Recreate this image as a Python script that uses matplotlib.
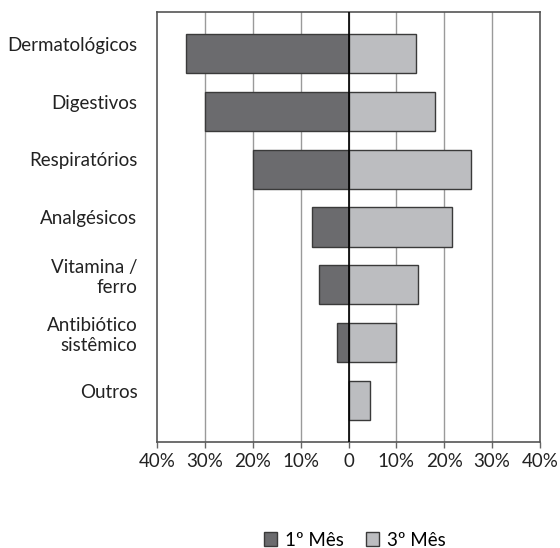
import numpy as np
import matplotlib.pyplot as plt
from matplotlib.patches import Patch

# ===== DADOS =====
categorias = ["Dermatológicos", "Digestivos", "Respiratórios", "Analgésicos",
              "Vitamina /\nferro", "Antibiótico\nsistêmico", "Outros"]
mes1 = [34, 30, 20, 7.6, 6.1, 2.3, 0]      # 1º Mês (lado esquerdo)
mes3 = [14, 18, 25.6, 21.6, 14.6, 10, 4.4]  # 3º Mês (lado direito)
xticks = [-40, -30, -20, -10, 0, 10, 20, 30, 40]
xlabels = ["40%", "30%", "20%", "10%", "0", "10%", "20%", "30%", "40%"]

cor1 = "#6b6b6e"
cor3 = "#bcbdc0"
borda = "#3a3a3a"

plt.rcParams['font.family'] = ['Lato', 'DejaVu Sans']

fig = plt.figure(figsize=(5.6, 5.48), dpi=100)
ax = fig.add_axes([157 / 560, 1 - 442 / 548, (540 - 157) / 560, (442 - 12) / 548])

y = np.arange(len(categorias))
ax.barh(y, [-v for v in mes1], height=0.68, color=cor1, edgecolor=borda, linewidth=1, zorder=3)
ax.barh(y, mes3, height=0.68, color=cor3, edgecolor=borda, linewidth=1, zorder=3)

ax.set_xlim(-40, 40)
ax.set_ylim(len(categorias) - 1 + 0.72, -0.72)

# grade vertical
for t in xticks:
    if t in (-40, 40):
        continue
    ax.axvline(t, color="#9a9a9a", linewidth=1, zorder=1)
ax.axvline(0, color="black", linewidth=1.2, zorder=4)

ax.set_xticks(xticks)
ax.set_xticklabels(xlabels, fontsize=13.5, color="#222222")
ax.tick_params(axis='x', length=4, width=1, color="#666666", pad=4)

# rotulos um pouco acima do centro das barras
ax.set_yticks(y - 0.17)
ax.set_yticklabels(categorias, fontsize=13.5, color="#222222", linespacing=1.2)
ax.tick_params(axis='y', length=0, pad=14)

for s in ax.spines.values():
    s.set_color("#555555")
    s.set_linewidth(1.2)

handles = [Patch(facecolor=cor1, edgecolor=borda, label="1º Mês"),
           Patch(facecolor=cor3, edgecolor=borda, label="3º Mês")]
fig.legend(handles=handles, loc="center", bbox_to_anchor=(355 / 560, 1 - 540 / 548),
           ncol=2, frameon=False, fontsize=13.5, handlelength=0.7, handleheight=0.7,
           handletextpad=0.4, columnspacing=1.2)

plt.savefig("out.png", dpi=100)
